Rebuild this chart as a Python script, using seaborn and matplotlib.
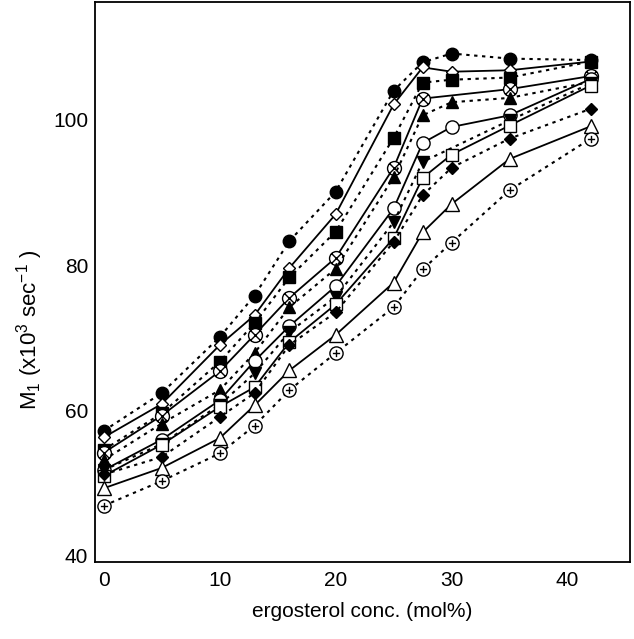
import numpy as np
import pandas as pd
import matplotlib
matplotlib.use("Agg")
import matplotlib.pyplot as plt
import matplotlib.ticker as ticker
from matplotlib.path import Path
import seaborn as sns

sns.set_theme(style="white")
plt.rcParams['font.family'] = ['Liberation Sans', 'DejaVu Sans']
plt.rcParams['mathtext.default'] = 'regular'

# ergosterol concentration (mol%)
conc = [0, 5, 10, 13, 16, 20, 25, 27.5, 30, 35, 42]

# M1 values (x10^3 sec^-1), one list per curve; nan = no point at that conc
filled_circle = [57.2, 62.4, 70.1, 75.8, 83.3, 90.1, 104.0, 107.9, 109.1, 108.4, 108.2]
open_diamond = [56.3, 60.9, 69.0, 73.1, 79.6, 87.0, 102.1, 107.2, 106.6, 106.8, 108.0]
filled_square = [54.6, 59.6, 66.7, 72.0, 78.3, 84.6, 97.5, 105.1, 105.5, 105.8, 108.0]
crossed_circle = [54.2, 59.3, 65.4, 70.4, 75.5, 81.0, 93.4, 102.9, np.nan, 104.2, 106.0]
filled_triangle = [53.2, 58.2, 62.8, 67.9, 74.2, 79.5, 92.1, 100.6, 102.4, 103.0, 105.2]
open_circle = [51.8, 56.0, 61.4, 66.8, 71.6, 77.1, 87.8, 96.8, 99.0, 100.6, 105.6]
filled_down = [51.8, 55.4, 60.8, 65.1, 70.8, 75.6, 85.9, 94.2, np.nan, 99.9, 105.0]
open_square = [51.0, 55.3, 60.5, 63.2, 69.4, 74.6, 83.7, 92.0, 95.2, 99.2, 104.7]
filled_diamond = [51.2, 53.6, 59.1, 62.4, 69.0, 73.5, 83.2, 89.6, 93.4, 97.4, 101.5]
open_triangle = [49.3, 52.1, 56.2, 60.7, 65.5, 70.4, 77.6, 84.5, 88.4, 94.6, 99.1]
plus_circle = [46.9, 50.3, 54.1, 57.9, 62.8, 67.9, 74.2, 79.4, 83.1, 90.3, 97.4]


def circle_marker(inner):
    # open circle with a cross (x) or plus (+) drawn inside
    c = Path.unit_circle()
    if inner == 'x':
        a = 0.72
        pts = [(-a, -a), (a, a), (-a, a), (a, -a)]
    else:
        a = 0.55
        pts = [(-a, 0), (a, 0), (0, -a), (0, a)]
    lines = Path(pts, [Path.MOVETO, Path.LINETO, Path.MOVETO, Path.LINETO])
    return Path.make_compound_path(c, lines)


DOT = (0, (1.6, 2.2))

# (values, marker, filled, dotted line, size)
curves = [
    (filled_circle, 'o', True, True, 9),
    (open_diamond, 'D', False, False, 6.5),
    (filled_square, 's', True, True, 8),
    (crossed_circle, circle_marker('x'), False, False, 10),
    (filled_triangle, '^', True, True, 9),
    (open_circle, 'o', False, False, 9.5),
    (filled_down, 'v', True, True, 9),
    (open_square, 's', False, False, 8.5),
    (filled_diamond, 'D', True, True, 6.5),
    (open_triangle, '^', False, False, 9.5),
    (plus_circle, circle_marker('+'), False, True, 9.5),
]

fig = plt.figure(figsize=(6.34, 6.39), dpi=100)
ax = fig.add_axes([0.150, 0.121, 0.844, 0.876])

for vals, mk, filled, dotted, ms in curves:
    d = pd.DataFrame({'conc': conc, 'M1': vals}).dropna()
    sns.lineplot(data=d, x='conc', y='M1', ax=ax, color='black', errorbar=None,
                 linewidth=1.5 if dotted else 1.3, linestyle=DOT if dotted else '-',
                 marker=mk, markersize=ms,
                 markerfacecolor='black' if filled else 'white',
                 markeredgecolor='black', markeredgewidth=1.0)

ax.set_xlim(-0.75, 45.4)
ax.set_ylim(39.2, 116.2)
ax.xaxis.set_major_locator(ticker.MultipleLocator(10))
ax.xaxis.set_minor_locator(ticker.MultipleLocator(5))
ax.yaxis.set_major_locator(ticker.MultipleLocator(20))
ax.yaxis.set_minor_locator(ticker.MultipleLocator(5))
ax.tick_params(which='both', direction='in', color='black', width=1.2,
               top=False, right=False, labelsize=15, labelcolor='black')
ax.tick_params(axis='x', which='major', length=8.5, pad=7)
ax.tick_params(axis='y', which='major', length=8.5, pad=5)
ax.tick_params(which='minor', length=4.5)

for s in ax.spines.values():
    s.set_color('black')
    s.set_linewidth(1.3)

ax.set_xlabel('ergosterol conc. (mol%)', fontsize=15, color='black')
ax.xaxis.set_label_coords(0.5, -0.072)
ax.set_ylabel(r'M$_1$ (x10$^3$ sec$^{-1}$ )', fontsize=16, color='black')
ax.yaxis.set_label_coords(-0.094, 0.415)

fig.savefig('out.png', dpi=100)
